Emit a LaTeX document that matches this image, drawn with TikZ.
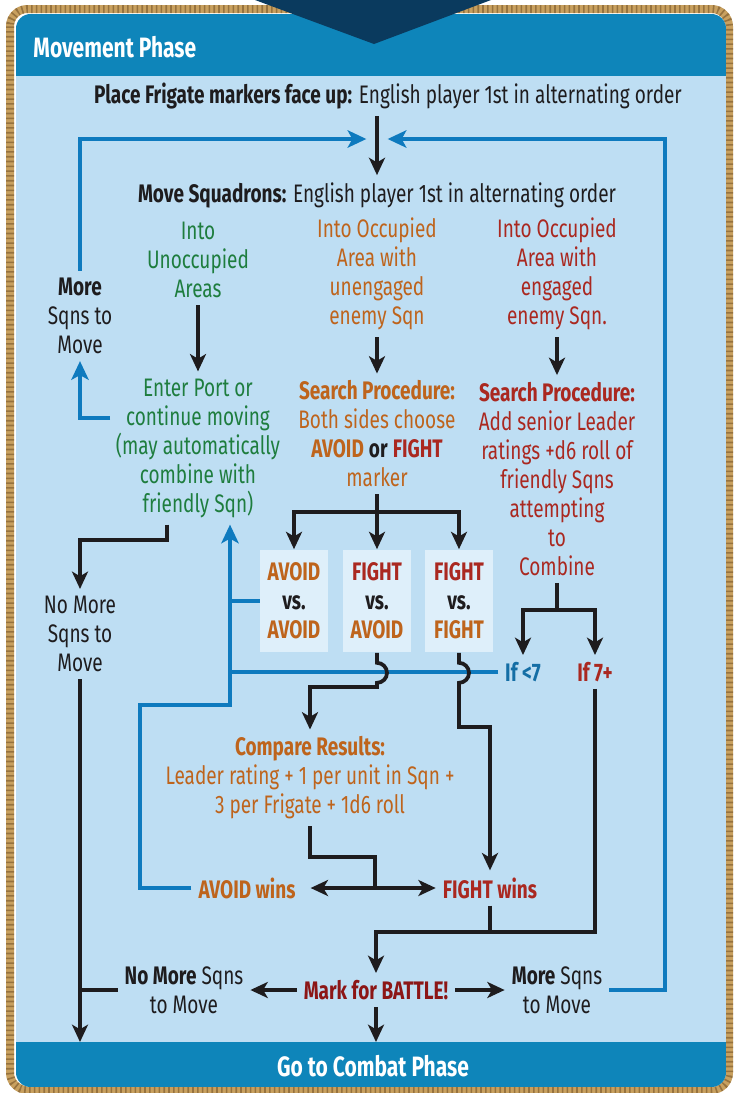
\documentclass[tikz,border=0pt]{standalone}
\usepackage{fontspec}
\setmainfont{Fira Sans}[FakeStretch=0.75]
\usetikzlibrary{arrows.meta}

\definecolor{bodyblue}{RGB}{190,222,243}
\definecolor{hdrblue}{RGB}{14,133,186}
\definecolor{navy}{RGB}{10,58,94}
\definecolor{loopblue}{RGB}{14,122,190}
\definecolor{ifblue}{RGB}{20,110,165}
\definecolor{grn}{RGB}{30,125,62}
\definecolor{orng}{RGB}{190,100,28}
\definecolor{redd}{RGB}{170,40,32}
\definecolor{dred}{RGB}{140,22,22}
\definecolor{ink}{RGB}{30,28,30}
\definecolor{ropetan}{RGB}{200,160,95}
\definecolor{ropedark}{RGB}{110,78,35}
\definecolor{boxfill}{RGB}{222,239,250}

\tikzset{every picture/.style={line width=0.75pt}}
\tikzset{
  lbl/.style={align=center, inner sep=5pt, text=ink, font=\fontsize{19}{21.75}\selectfont},
  hdr/.style={inner sep=0pt, text=white, font=\fontsize{21}{24}\selectfont\bfseries},
  vsbox/.style={lbl, fill=boxfill, inner sep=0pt, minimum width=51pt, minimum height=77pt, font=\fontsize{19}{21.75}\selectfont\bfseries},
  blkline/.style={draw=ink, line width=2.8pt},
  blkarrow/.style={blkline, -{Stealth[length=13pt,width=12pt,inset=3.5pt]}},
  dblarrow/.style={blkline, {Stealth[length=13pt,width=12pt,inset=3.5pt]}-{Stealth[length=13pt,width=12pt,inset=3.5pt]}},
  bluline/.style={draw=loopblue, line width=3.6pt},
  bluarrow/.style={bluline, -{Stealth[length=14pt,width=13pt,inset=3.5pt]}},
  ropeline/.style={draw=ropetan, line width=6pt, rounded corners=13pt}
}

\begin{document}
\begin{tikzpicture}[x=0.75pt,y=0.75pt,yscale=-1,xscale=1]
\useasboundingbox (0,0) rectangle (733,1093);

%Shape: Frame
\fill[white] (0,0) rectangle (733,1093);
\draw[ropeline] (10,9) rectangle (729,1090);
\draw[ropeline, draw=ropedark, draw opacity=0.55, dash pattern=on 1.2pt off 2.4pt] (10,9) rectangle (729,1090);
\begin{scope}
\clip[rounded corners=11pt] (16,14) rectangle (726,1087);
\fill[bodyblue] (16,14) rectangle (726,1087);
\fill[hdrblue] (16,14) rectangle (726,76);
\fill[hdrblue] (16,1042) rectangle (726,1087);
\end{scope}
\fill[navy] (255,0) -- (491,0) -- (374,44) -- cycle;

% Text Node
\draw (33,47) node [hdr, anchor=west] (title) {Movement Phase};
% Text Node
\draw (388,96) node [lbl] (place) {\textbf{Place Frigate markers face up:} English player 1st in alternating order};
% Text Node
\draw (377,195) node [lbl] (move) {\textbf{Move Squadrons:} English player 1st in alternating order};
% Text Node
\draw (198,260) node [lbl, text=grn] (unocc) {Into\\Unoccupied\\Areas};
% Text Node
\draw (377,274) node [lbl, text=orng] (occfree) {Into Occupied\\Area with\\unengaged\\enemy Sqn};
% Text Node
\draw (557,274) node [lbl, text=redd] (occeng) {Into Occupied\\Area with\\engaged\\enemy Sqn.};
% Text Node
\draw (80,316) node [lbl] (moreup) {\textbf{More}\\Sqns to\\Move};
% Text Node
\draw (198,448) node [lbl, text=grn] (port) {Enter Port or\\continue moving\\(may automatically\\combine with\\friendly Sqn)};
% Text Node
\draw (377,434) node [lbl, text=orng] (searchfree) {\textbf{Search Procedure:}\\Both sides choose\\\textbf{AVOID} \textcolor{ink}{\textbf{or}} \textcolor{redd}{\textbf{FIGHT}}\\marker};
% Text Node
\draw (557,479) node [lbl, text=redd] (searcheng) {\textbf{Search Procedure:}\\Add senior Leader\\ratings +d6 roll of\\friendly Sqns\\attempting\\to\\Combine};
% Text Node
\draw (294,601) node [vsbox] (aa) {\textcolor{orng}{AVOID}\\vs.\\\textcolor{orng}{AVOID}};
% Text Node
\draw (377,601) node [vsbox] (fa) {\textcolor{redd}{FIGHT}\\vs.\\\textcolor{orng}{AVOID}};
% Text Node
\draw (459,601) node [vsbox] (ff) {\textcolor{redd}{FIGHT}\\vs.\\\textcolor{orng}{FIGHT}};
% Text Node
\draw (80,634) node [lbl] (nomoreup) {No More\\Sqns to\\Move};
% Text Node
\draw (523,672) node [lbl, text=ifblue] (iflow) {\textbf{If <7}};
% Text Node
\draw (595,672) node [lbl, text=redd] (ifhigh) {\textbf{If 7+}};
% Text Node
\draw (310,778) node [lbl, text=orng] (compare) {\textbf{Compare Results:}\\Leader rating + 1 per unit in Sqn +\\3 per Frigate + 1d6 roll};
% Text Node
\draw (247,888) node [lbl, text=orng] (avoidwins) {\textbf{AVOID wins}};
% Text Node
\draw (490,888) node [lbl, text=redd] (fightwins) {\textbf{FIGHT wins}};
% Text Node
\draw (376,990) node [lbl, text=dred] (battle) {\textbf{Mark for BATTLE!}};
% Text Node
\draw (184,990) node [lbl] (nomoredown) {\textbf{No More} Sqns\\to Move};
% Text Node
\draw (557,990) node [lbl] (moredown) {\textbf{More} Sqns\\to Move};
% Text Node
\draw (373,1066) node [hdr] (footer) {Go to Combat Phase};

\coordinate (jtop) at (377,139);
\coordinate (jmore) at (665,139);
\coordinate (portleft) at (110,418);
\coordinate (jsearch) at (377,512);
\coordinate (jport) at (167,540);
\coordinate (jcomb) at (557,610);
\coordinate (jloop) at (230,672);
\coordinate (jwins) at (140,705);
\coordinate (jhop) at (377,687);
\coordinate (jff) at (459,727);
\coordinate (jcmp) at (375,857);
\coordinate (jbat) at (376,932);
\coordinate (ftop) at (376,1042);

%Blue Lines
\draw[bluarrow, shorten >=8pt] (moreup.north) |- (jtop);
\draw[bluarrow, shorten >=8pt] (moredown.east) -| (jmore) -- (jtop);
\draw[bluarrow] (portleft) -| (moreup.south);
\draw[bluarrow] (iflow.west) -- (jloop) -- (jloop |- port.south);
\draw[bluline] (aa.west) -- (aa.west -| jloop);
\draw[bluline] (avoidwins.west) -| (jwins) -| (jloop);

%Black Lines
\draw[blkarrow] (move.north |- place.south) -- (move.north);
\draw[blkarrow] (unocc) -- (port);
\draw[blkarrow] (occfree) -- (searchfree);
\draw[blkarrow] (occeng) -- (searcheng);
\draw[blkline] (searchfree.south) -- (jsearch);
\draw[blkarrow] (jsearch) -| (aa.north);
\draw[blkarrow] (jsearch) -- (fa.north);
\draw[blkarrow] (jsearch) -| (ff.north);
\draw[blkarrow] (port.south -| jport) -- (jport) -| (nomoreup.north);
\draw[blkline] (searcheng.south) -- (jcomb);
\draw[blkarrow] (jcomb) -| (iflow.north);
\draw[blkarrow] (jcomb) -| (ifhigh.north);
\draw[blkarrow] (fa.south) -- ++(0,10) arc[start angle=-90,end angle=90,radius=10] -- (jhop) -| (compare.north);
\draw[blkarrow] (ff.south) -- ++(0,10) arc[start angle=-90,end angle=90,radius=10] -- (jff) -| (fightwins.north);
\draw[blkline] (compare.south) |- (jcmp) -- (jcmp |- avoidwins);
\draw[dblarrow, shorten <=6pt] (avoidwins) -- (fightwins);
\draw[blkline] (fightwins.south) -- (fightwins.south |- jbat);
\draw[blkarrow] (ifhigh.south) |- (jbat) -- (battle.north);
\draw[blkarrow] (battle) -- (nomoredown);
\draw[blkarrow] (battle) -- (moredown);
\draw[blkarrow] (battle) -- (ftop);
\draw[blkarrow] (nomoreup.south) -- (nomoreup.south |- ftop);
\draw[blkline] (nomoredown.west) -- (nomoredown.west -| nomoreup.south);

\end{tikzpicture}
\end{document}
